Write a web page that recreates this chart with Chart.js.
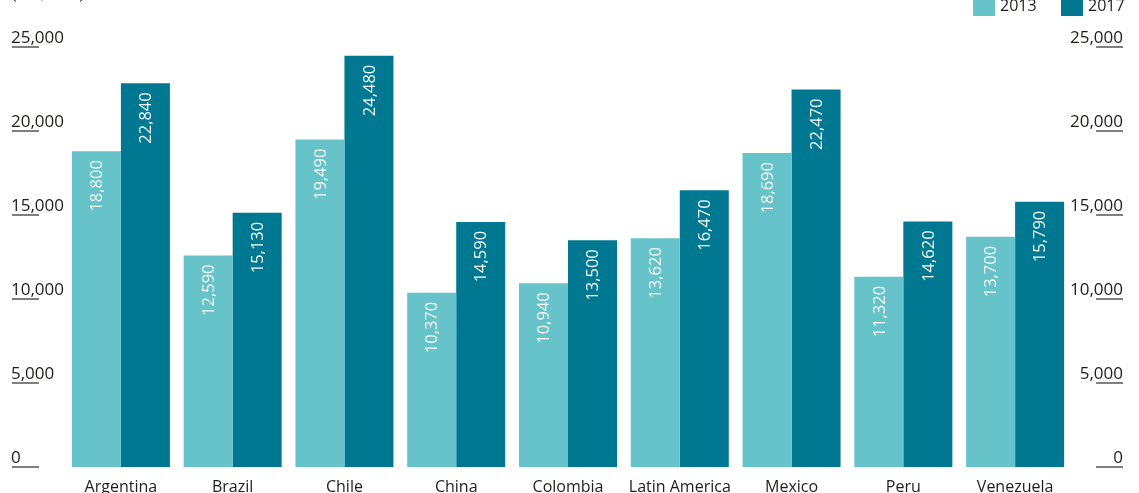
<!DOCTYPE html>
<html>
<head>
<meta charset="utf-8">
<script src="https://cdn.jsdelivr.net/npm/chart.js@4/dist/chart.umd.min.js"></script>
<style>
  html, body { margin: 0; padding: 0; background: #fff; }
  #wrap { width: 1139px; height: 493px; position: relative; }
</style>
</head>
<body>
<div id="wrap"><canvas id="chart" width="1139" height="493"></canvas></div>
<script>
const categories = ["Argentina", "Brazil", "Chile", "China", "Colombia", "Latin America", "Mexico", "Peru", "Venezuela"];
const values2013 = [18800, 12590, 19490, 10370, 10940, 13620, 18690, 11320, 13700];
const values2017 = [22840, 15130, 24480, 14590, 13500, 16470, 22470, 14620, 15790];
const yTicks = [0, 5000, 10000, 15000, 20000, 25000];
const unitLabel = "(US$ PPP)";

const LIGHT = "#66c3c9";
const DARK = "#007892";
const INK = "#1d1d1b";
const FONT = '"Open Sans", "Noto Sans", sans-serif';

const fmt = v => v.toLocaleString("en-US");

// value labels written upward inside the top of each bar
const barLabels = {
  id: "barLabels",
  afterDatasetsDraw(chart) {
    const ctx = chart.ctx;
    ctx.save();
    ctx.fillStyle = "#f2fafb";
    ctx.font = "16.5px " + FONT;
    ctx.textAlign = "right";
    ctx.textBaseline = "middle";
    chart.data.datasets.forEach((ds, i) => {
      chart.getDatasetMeta(i).data.forEach((bar, j) => {
        ctx.save();
        ctx.translate(bar.x, bar.y + 9);
        ctx.rotate(-Math.PI / 2);
        ctx.fillText(fmt(ds.data[j]), 0, 1);
        ctx.restore();
      });
    });
    ctx.restore();
  }
};

// axis labels on both sides, category names, legend and unit note
const frame = {
  id: "frame",
  afterDraw(chart) {
    const ctx = chart.ctx;
    const y = chart.scales.y;
    const x = chart.scales.x;
    ctx.save();
    ctx.font = "17px " + FONT;
    ctx.fillStyle = INK;
    ctx.strokeStyle = "#555";
    ctx.lineWidth = 1.5;
    yTicks.forEach(t => {
      const py = y.getPixelForValue(t);
      ctx.textBaseline = "alphabetic";
      ctx.textAlign = "left";
      ctx.fillText(fmt(t), 11, py - 4);
      ctx.textAlign = "right";
      ctx.fillText(fmt(t), 1123, py - 4);
      ctx.beginPath();
      ctx.moveTo(12, py); ctx.lineTo(39, py);
      ctx.moveTo(1096, py); ctx.lineTo(1123, py);
      ctx.stroke();
    });

    ctx.font = "16px " + FONT;
    ctx.textAlign = "center";
    ctx.textBaseline = "middle";
    categories.forEach((c, i) => {
      ctx.fillText(c, x.getPixelForValue(i), 487);
    });

    // unit note, mostly above the top edge
    ctx.textAlign = "left";
    ctx.textBaseline = "alphabetic";
    ctx.fillText(unitLabel, 12, -1);

    // legend
    const items = [["2013", LIGHT, 973], ["2017", DARK, 1061]];
    items.forEach(([label, col, lx]) => {
      ctx.fillStyle = col;
      ctx.fillRect(lx, 0, 22, 16);
      ctx.fillStyle = INK;
      ctx.textBaseline = "middle";
      ctx.fillText(label, lx + 27, 6);
    });
    ctx.restore();
  }
};

new Chart(document.getElementById("chart"), {
  type: "bar",
  data: {
    labels: categories,
    datasets: [
      { label: "2013", data: values2013, backgroundColor: LIGHT },
      { label: "2017", data: values2017, backgroundColor: DARK }
    ]
  },
  options: {
    responsive: false,
    animation: false,
    layout: { padding: { left: 65, right: 68, top: 47, bottom: 26 } },
    datasets: { bar: { categoryPercentage: 0.877, barPercentage: 1.0, borderWidth: 0 } },
    scales: {
      x: { display: false },
      y: { display: false, min: 0, max: 25000 }
    },
    plugins: { legend: { display: false }, tooltip: { enabled: false } }
  },
  plugins: [barLabels, frame]
});
</script>
</body>
</html>
